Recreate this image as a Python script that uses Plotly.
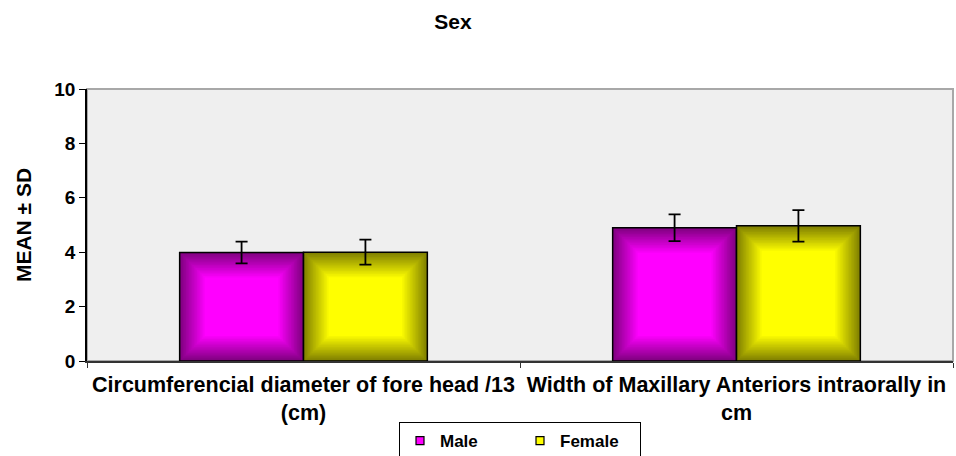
import plotly.graph_objects as go

categories = ["Circumferencial diameter of fore head /13<br>(cm)",
              "Width of Maxillary Anteriors intraorally in<br>cm"]
series_names = ["Male", "Female"]
male_mean = [3.99, 4.90]
female_mean = [4.00, 4.97]
male_sd = [0.40, 0.49]
female_sd = [0.46, 0.58]
y_ticks = [0, 2, 4, 6, 8, 10]

means = [male_mean, female_mean]
sds = [male_sd, female_sd]
dark = [(128, 0, 128), (128, 128, 0)]
bright = [(255, 0, 255), (255, 255, 0)]

BAR_W = 0.286          # width of one bar in category units
OFFS = [-BAR_W / 2, BAR_W / 2]
N_LAYERS = 16
DX = 0.058             # bevel inset (category units)
DY = 0.92              # bevel inset (value units)

fig = go.Figure()
idx = list(range(len(categories)))

for s in range(2):
    xs = [i + OFFS[s] for i in idx]
    for k in range(N_LAYERS + 1):
        t = k / N_LAYERS
        c = tuple(int(round(dark[s][j] + (bright[s][j] - dark[s][j]) * t)) for j in range(3))
        col = "rgb(%d,%d,%d)" % c
        fig.add_trace(go.Bar(
            x=xs,
            y=[v - 2 * DY * t for v in means[s]],
            base=[DY * t for _ in means[s]],
            width=BAR_W - 2 * DX * t,
            marker=dict(color=col,
                        line=dict(color="black", width=1.5 if k == 0 else 0)),
            showlegend=False, hoverinfo="skip"))
    # error bars
    fig.add_trace(go.Scatter(
        x=xs, y=means[s], mode="markers",
        marker=dict(size=1, opacity=0),
        error_y=dict(type="data", array=sds[s], visible=True,
                     color="black", thickness=1.8, width=6),
        showlegend=False, hoverinfo="skip"))

# legend entries
for s in range(2):
    fig.add_trace(go.Scatter(
        x=[None], y=[None], name="<b>%s</b>" % series_names[s], mode="markers",
        marker=dict(symbol="square", size=8, color="rgb(%d,%d,%d)" % bright[s],
                    line=dict(color="black", width=1.2)),
        showlegend=True))

fig.update_layout(
    width=956, height=456,
    margin=dict(l=87, r=3, t=89, b=95, autoexpand=False),
    paper_bgcolor="white",
    plot_bgcolor="#efefef",
    barmode="overlay",
    font=dict(family="Liberation Sans, Arial, sans-serif", color="black"),
    title=dict(text="<b>Sex</b>", x=453 / 956, xanchor="center", y=1 - 22 / 456, yanchor="middle",
               font=dict(size=21)),
    xaxis=dict(range=[-0.5, 1.5], tickvals=idx, ticktext=["<b>%s</b>" % c for c in categories],
               ticks="", showline=True, linecolor="#333333", linewidth=1.5,
               tickfont=dict(size=21.5), ticklabelstandoff=3, tickangle=0,
               showgrid=False, zeroline=False, automargin=False,
               minor=dict(tickvals=[-0.5, 0.5, 1.5], ticks="outside", ticklen=5, tickcolor="#333333")),
    yaxis=dict(range=[0, 10], tickvals=y_ticks, ticktext=["<b>%d</b>" % v for v in y_ticks],
               ticks="outside", ticklen=6, tickcolor="black", showline=True, linecolor="black",
               linewidth=1.5, showgrid=False, zeroline=False, automargin=False,
               tickfont=dict(size=19),
               title=dict(text="<b>MEAN ± SD</b>", font=dict(size=21), standoff=17)),
    legend=dict(orientation="h", x=0.5, xanchor="center", y=(361 - 422) / 272, yanchor="top",
                bordercolor="black", borderwidth=1, bgcolor="white",
                font=dict(size=17),
                entrywidth=75, itemwidth=30),
    shapes=[dict(type="rect", xref="paper", yref="paper", x0=0, x1=1, y0=0, y1=1,
                 line=dict(color="#a8a8a8", width=2), layer="below")],
)

fig.write_html("out.html", config={"displayModeBar": False},
               post_script="document.body.style.margin='0';")
